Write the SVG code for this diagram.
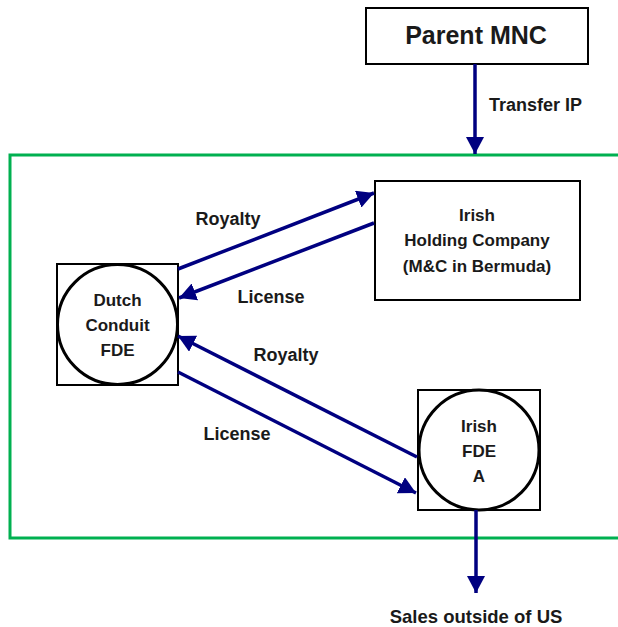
<svg xmlns="http://www.w3.org/2000/svg" width="618" height="627" viewBox="0 0 618 627">
<style>
.box{fill:#fff;stroke:#000;stroke-width:2}
.circ{fill:#fff;stroke:#000;stroke-width:3}
.t{font-family:"Liberation Sans",Arial,sans-serif;font-weight:bold;fill:#1a1a1a;text-anchor:middle}
.n{font-size:17px}
.l{font-size:18px}
.c{stroke:#000080;stroke-width:3.5;fill:none;marker-end:url(#ah)}
</style>
<defs>
<marker id="ah" markerUnits="userSpaceOnUse" markerWidth="18" markerHeight="18" refX="17" refY="9" orient="auto">
<path d="M0,0 L17,9 L0,18 Z" fill="#000080"/>
</marker>
</defs>
<rect width="618" height="627" fill="#fff"/>
<rect x="10" y="155" width="620" height="383" fill="none" stroke="#00b050" stroke-width="3"/>
<g id="parent">
<rect class="box" x="366" y="8" width="222" height="56"/>
<text class="t" x="476" y="44" font-size="25">Parent MNC</text>
</g>
<g id="holding">
<rect class="box" x="375" y="181" width="205" height="119"/>
<text class="t n" x="477" y="221">Irish</text>
<text class="t n" x="477" y="246">Holding Company</text>
<text class="t n" x="477" y="272">(M&amp;C in Bermuda)</text>
</g>
<g id="dutch">
<rect class="box" x="57" y="264" width="121" height="121"/>
<circle class="circ" cx="117.5" cy="324.5" r="60"/>
<text class="t n" x="117.5" y="306">Dutch</text>
<text class="t n" x="117.5" y="331">Conduit</text>
<text class="t n" x="117.5" y="356">FDE</text>
</g>
<g id="irishfde">
<rect class="box" x="418" y="390" width="122" height="120"/>
<circle class="circ" cx="479" cy="450" r="60"/>
<text class="t n" x="479" y="432">Irish</text>
<text class="t n" x="479" y="457">FDE</text>
<text class="t n" x="479" y="482">A</text>
</g>
<g id="connectors">
<line class="c" x1="475" y1="64" x2="475" y2="154"/>
<line class="c" x1="178" y1="269" x2="374" y2="193"/>
<line class="c" x1="374" y1="223" x2="179" y2="298"/>
<line class="c" x1="417" y1="457" x2="178" y2="336"/>
<line class="c" x1="178" y1="372" x2="416" y2="493"/>
<line class="c" x1="476" y1="510" x2="476" y2="593"/>
</g>
<g id="labels">
<text class="t l" x="489" y="111" text-anchor="start" style="text-anchor:start">Transfer IP</text>
<text class="t l" x="228" y="225">Royalty</text>
<text class="t l" x="271" y="303">License</text>
<text class="t l" x="286" y="361">Royalty</text>
<text class="t l" x="237" y="440">License</text>
<text class="t" x="476" y="623" font-size="18.5">Sales outside of US</text>
</g>
</svg>
